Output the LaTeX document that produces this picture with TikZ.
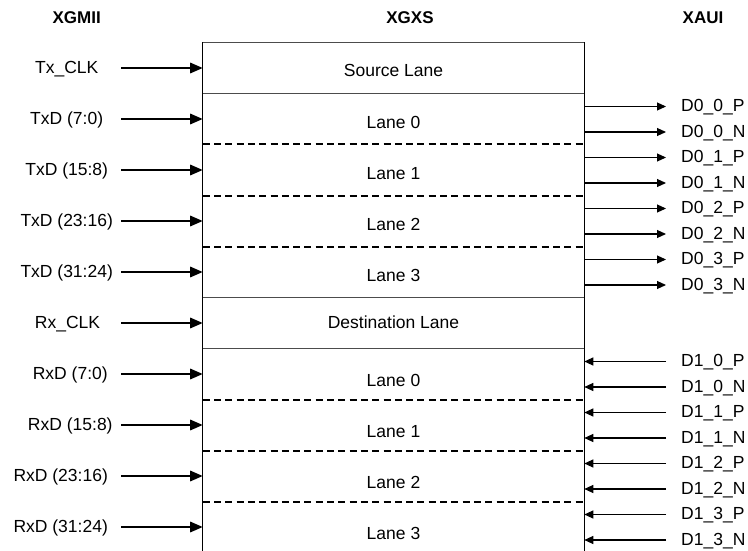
\documentclass[tikz,border=0pt]{standalone}
\usepackage{fontspec}
\setmainfont{Liberation Sans}
\usetikzlibrary{arrows.meta}
\begin{document}
\begin{tikzpicture}[x=1pt,y=-1pt,
  txt/.style={font=\fontsize{17.5}{20}\selectfont, inner sep=0pt, anchor=base},
  hdr/.style={font=\fontsize{17}{20}\selectfont\bfseries, inner sep=0pt, anchor=base},
  inarr/.style={line width=1.6pt, -{Triangle[length=12.5pt,width=10.5pt]}},
  outarr/.style={line width=1.1pt, -{Triangle[length=9pt,width=8pt]}},
  boxline/.style={line width=1.1pt, draw=black},
  sep/.style={line width=1.1pt, draw=black!70},
  dsep/.style={line width=2pt, dash pattern=on 7pt off 4.3pt},
]
\useasboundingbox (0,0) rectangle (748,551);

% headers
\node[hdr] (hxgmii) at (76.7,24) {XGMII};
\node[hdr] (hxgxs) at (410,24) {XGXS};
\node[hdr] (hxaui) at (703,24) {XAUI};

% box outline (bottom runs off the page)
\coordinate (bl) at (202.7,551);
\coordinate (tl) at (202.7,42.5);
\coordinate (tr) at (584.3,42.5);
\coordinate (br) at (584.3,551);
\draw[sep] (tl) -- (tr);
\draw[boxline] (tl) -- (bl);
\draw[boxline] (tr) -- (br);

% separators
\foreach \k/\st in {1/sep,2/dsep,3/dsep,4/dsep,5/sep,6/sep,7/dsep,8/dsep,9/dsep}{
  \coordinate (sl\k) at (202.7,42.5+51*\k);
  \coordinate (sr\k) at (584.3,42.5+51*\k);
  \draw[\st] (sl\k) -- (sr\k);
}

% lane texts
\foreach \t/\yb [count=\i from 0] in {Source Lane/76.3, Lane 0/128.5, Lane 1/179.3, Lane 2/230.1, Lane 3/281.3, Destination Lane/328.3, Lane 0/386.8, Lane 1/437.6, Lane 2/488.6, Lane 3/539.6}{
  \node[txt] (lane\i) at (393.5,\yb) {\t};
}

% left inputs
\foreach \t/\cx [count=\i from 0] in {Tx\_CLK/66.7, TxD (7:0)/66.7, TxD (15:8)/66.7, TxD (23:16)/66.7, TxD (31:24)/66.7, Rx\_CLK/67.5, RxD (7:0)/70.3, RxD (15:8)/70.3, RxD (23:16)/60.7, RxD (31:24)/60.7}{
  \coordinate (ls\i) at (121,68+51*\i);
  \coordinate (le\i) at (202.7,68+51*\i);
  \node[txt] (ll\i) at (\cx,73.5+51*\i) {\t};
  \draw[inarr] (ls\i) -- (le\i);
}

% right outputs (transmit)
\foreach \j in {0,...,3}{
  \coordinate (op\j s) at (584.3,106.5+51*\j);
  \coordinate (op\j e) at (666,106.5+51*\j);
  \coordinate (on\j s) at (584.3,132+51*\j);
  \coordinate (on\j e) at (666,132+51*\j);
  \draw[outarr] (op\j s) -- (op\j e);
  \draw[outarr] (on\j s) -- (on\j e);
  \node[txt,anchor=base west] (opl\j) at (681,111.5+51*\j) {D0\_\j\_P};
  \node[txt,anchor=base west] (onl\j) at (681,137+51*\j) {D0\_\j\_N};
}

% right inputs (receive)
\foreach \j in {0,...,3}{
  \coordinate (ip\j s) at (666,361.5+51*\j);
  \coordinate (ip\j e) at (584.3,361.5+51*\j);
  \coordinate (in\j s) at (666,387+51*\j);
  \coordinate (in\j e) at (584.3,387+51*\j);
  \draw[outarr] (ip\j s) -- (ip\j e);
  \draw[outarr] (in\j s) -- (in\j e);
  \node[txt,anchor=base west] (ipl\j) at (681,366.5+51*\j) {D1\_\j\_P};
  \node[txt,anchor=base west] (inl\j) at (681,392+51*\j) {D1\_\j\_N};
}
\end{tikzpicture}
\end{document}
